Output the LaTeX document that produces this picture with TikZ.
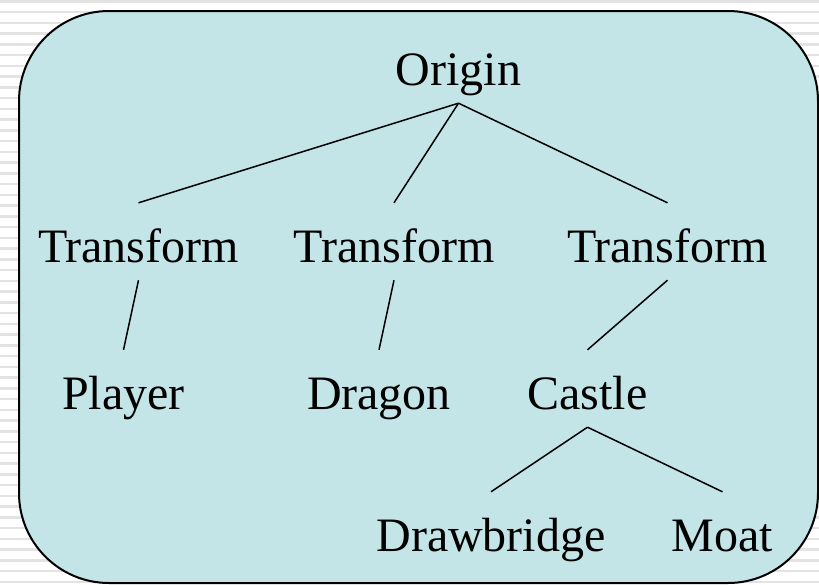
\documentclass[tikz,border=0pt]{standalone}
\usepackage{fontspec}
\setmainfont{Liberation Serif}
\definecolor{panel}{HTML}{C4E5E8}
\definecolor{stripe}{HTML}{E3E3E3}
\tikzset{
    item/.style={font=\fontsize{48}{58}\selectfont, anchor=base, text height=41pt, text depth=0pt, inner xsep=0pt, inner ysep=18pt},
    branch/.style={line width=1.5pt}
}
\begin{document}
\begin{tikzpicture}[x=1pt,y=-1pt]
            \useasboundingbox (0,0) rectangle (819,584);
            \fill[white] (0,0) rectangle (819,584);
            \foreach \k in {0,...,54}
                \fill[stripe] (0,\k*10.75) rectangle (819,\k*10.75+2.5);
            \filldraw[fill=panel, line width=2pt, rounded corners=90pt] (19,11) rectangle (818,583);
            \node[item] (origin) at (458.5,85) {Origin};
            \node[item] (t1) at (138.5,262) {Transform};
            \node[item] (t2) at (394,262) {Transform};
            \node[item] (t3) at (667.5,262) {Transform};
            \node[item] (player) at (123.5,409) {Player};
            \node[item] (dragon) at (379,409) {Dragon};
            \node[item] (castle) at (587.5,409) {Castle};
            \node[item] (bridge) at (491,551) {Drawbridge};
            \node[item] (moat) at (722.5,551) {Moat};
            \draw[branch] (origin.south) -- (t1.north);
            \draw[branch] (origin.south) -- (t2.north);
            \draw[branch] (origin.south) -- (t3.north);
            \draw[branch] (t1.south) -- (player.north);
            \draw[branch] (t2.south) -- (dragon.north);
            \draw[branch] (t3.south) -- (castle.north);
            \draw[branch] (castle.south) -- (bridge.north);
            \draw[branch] (castle.south) -- (moat.north);
        \end{tikzpicture}
\end{document}
